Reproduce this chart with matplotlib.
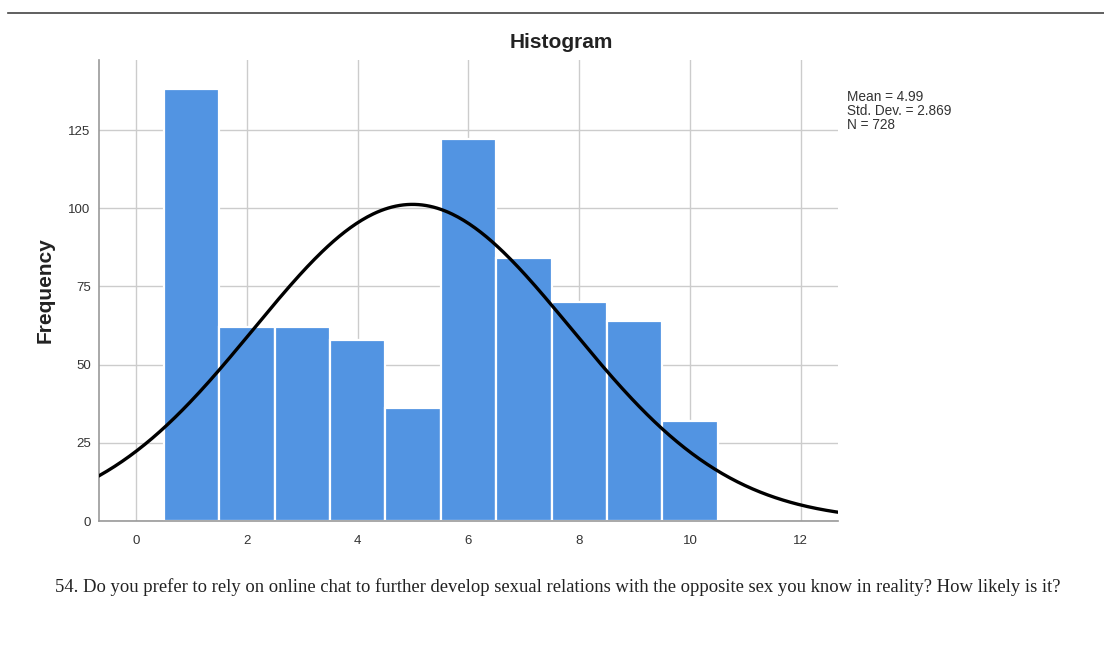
#!/usr/bin/env python3
import numpy as np
import matplotlib
matplotlib.use("Agg")
import matplotlib.pyplot as plt

# Histogram data (response value -> count)
categories = [1, 2, 3, 4, 5, 6, 7, 8, 9, 10]
counts = [138, 62, 62, 58, 36, 122, 84, 70, 64, 32]
mean_val = 4.99
std_val = 2.869
n_total = 728
x_ticks = [0, 2, 4, 6, 8, 10, 12]
y_ticks = [0, 25, 50, 75, 100, 125]
caption = ("54. Do you prefer to rely on online chat to further develop sexual relations "
           "with the opposite sex you know in reality? How likely is it?")

fig = plt.figure(figsize=(11.04, 6.57), dpi=100)
ax = fig.add_axes([0.0897, 0.207, 0.6693, 0.7017])

ax.bar(categories, counts, width=1.0, color="#5294E2", edgecolor="white",
       linewidth=1.6, zorder=2)

# fitted normal curve, scaled to the counts (bin width 1)
xs = np.linspace(-0.8, 12.8, 400)
ys = n_total / (std_val * np.sqrt(2 * np.pi)) * np.exp(-0.5 * ((xs - mean_val) / std_val) ** 2)
ax.plot(xs, ys, color="black", linewidth=2.4, zorder=3, solid_capstyle="round")

ax.set_xlim(-0.67, 12.67)
ax.set_ylim(0, 147.4)
ax.set_xticks(x_ticks)
ax.set_yticks(y_ticks)
ax.grid(True, color="#cccccc", linewidth=1.0, zorder=0)
ax.set_axisbelow(True)
ax.tick_params(axis="x", length=0, labelsize=9.5, labelcolor="#333333", pad=10)
ax.tick_params(axis="y", length=0, labelsize=9.5, labelcolor="#333333", pad=6)
for t in ax.get_xticklabels() + ax.get_yticklabels():
    t.set_fontfamily("Liberation Sans")
for side in ["top", "right"]:
    ax.spines[side].set_visible(False)
for side in ["left", "bottom"]:
    ax.spines[side].set_color("#999999")
    ax.spines[side].set_linewidth(1.2)

ax.set_ylabel("Frequency", fontsize=15, fontweight="bold", family="Liberation Sans",
              color="#222222", labelpad=10)

fig.text(0.508, 0.935, "Histogram", ha="center", va="center", fontsize=15,
         fontweight="bold", family="Liberation Sans", color="#222222")

fig.text(0.767, 0.831, f"Mean = {mean_val}\nStd. Dev. = {std_val}\nN = {n_total}",
         ha="left", va="center", fontsize=9.8, family="Liberation Sans",
         color="#333333", linespacing=1.0)

# top rule and caption
fig.add_artist(plt.Line2D([0.007, 1.0], [0.980, 0.980], color="#444444", linewidth=1.2))
fig.text(0.05, 0.107, caption, ha="left", va="center", fontsize=13.4,
         family="Liberation Serif", color="#222222")

fig.savefig("out.png", dpi=100)
